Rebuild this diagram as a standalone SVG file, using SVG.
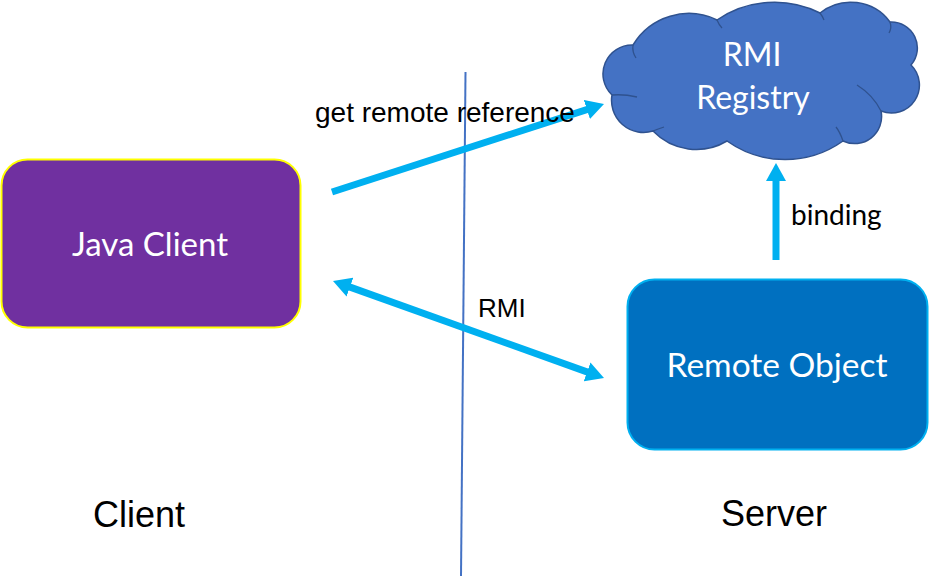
<svg xmlns="http://www.w3.org/2000/svg" width="930" height="576" viewBox="0 0 930 576">
<style>
.lbl{font-family:"Liberation Sans",Arial,sans-serif;fill:#000}
.wt{font-family:Lato,"Open Sans",sans-serif;fill:#fff;text-anchor:middle}
.conn{stroke:#00B0F0;stroke-width:7;fill:none}
.crease{fill:none;stroke:#2F528F;stroke-width:1.3}
</style>
<defs>
<marker id="ah" markerUnits="userSpaceOnUse" markerWidth="20" markerHeight="22" refX="8" refY="10" orient="auto-start-reverse" viewBox="0 0 20 20">
<path d="M0,0 L18,10 L0,20 Z" fill="#00B0F0"/>
</marker>
</defs>
<rect width="930" height="576" fill="#fff"/>
<line x1="465.5" y1="72" x2="461" y2="576" stroke="#4472C4" stroke-width="2"/>
<g id="java-client">
<rect x="1.5" y="159.5" width="299" height="168" rx="26" fill="#7030A0" stroke="#FFFF00" stroke-width="2"/>
<text class="wt" x="150" y="256" font-size="33">Java Client</text>
</g>
<g id="remote-object">
<rect x="627.5" y="279.5" width="300" height="170" rx="27" fill="#0070C0" stroke="#00B0F0" stroke-width="2"/>
<text class="wt" x="777" y="377" font-size="33.5">Remote Object</text>
</g>
<g id="rmi-registry">
<path d="M612,95 A29,29 0 0 1 633,45 A65,65 0 0 1 717,20 A102,102 0 0 1 820,13 A49,49 0 0 1 890,22 A26,26 0 0 1 911,65 A28,28 0 0 1 881,111 A27,27 0 0 1 843,141 A100,100 0 0 1 727,141 A60,60 0 0 1 653,131 A32,32 0 0 1 612,95 Z" fill="#4472C4" stroke="#2F528F" stroke-width="1.5"/>
<path class="crease" d="M612,95 Q624,94 637,97"/>
<path class="crease" d="M633,45 Q632,52 636,58"/>
<path class="crease" d="M717,20 Q719,25 722,28"/>
<path class="crease" d="M820,13 Q823,17 824,20"/>
<path class="crease" d="M890,22 Q892,28 889,33"/>
<path class="crease" d="M857,85 Q873,95 881,111"/>
<path class="crease" d="M843,141 Q840,132 836,127"/>
<path class="crease" d="M653,131 Q658,129 664,127"/>
<text class="wt" x="752" y="66" font-size="32">RMI</text>
<text class="wt" x="753" y="109" font-size="32">Registry</text>
</g>
<g id="connectors">
<line class="conn" x1="332" y1="192" x2="594.5" y2="107.1" marker-end="url(#ah)"/>
<line class="conn" x1="342.4" y1="284.4" x2="594.6" y2="374.6" marker-start="url(#ah)" marker-end="url(#ah)"/>
<line class="conn" x1="776" y1="260" x2="776" y2="173" marker-end="url(#ah)"/>
</g>
<text class="lbl" x="315" y="122" font-size="28">get remote reference</text>
<text class="lbl" x="478" y="317" font-size="26">RMI</text>
<text class="wt" x="791" y="225" font-size="28" style="fill:#000;text-anchor:start">binding</text>
<text class="lbl" x="93" y="527" font-size="36">Client</text>
<text class="lbl" x="721" y="526" font-size="36">Server</text>
</svg>
